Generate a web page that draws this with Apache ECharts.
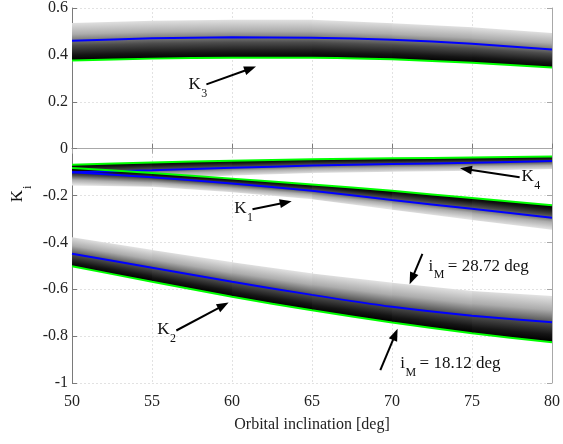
<!DOCTYPE html>
<html>
<head>
<meta charset="utf-8">
<script src="https://cdn.jsdelivr.net/npm/echarts@6/dist/echarts.min.js"></script>
<style>
html, body { margin: 0; padding: 0; background: #fff; }
#chart { width: 563px; height: 444px; }
</style>
</head>
<body>
<div id="chart"></div>
<script>
// orbital inclination [deg]
const inclination = [50, 55, 60, 65, 70, 75, 80]

// i_M = 18.12 deg (green), mean (blue), i_M = 28.72 deg (outer edge of the band)
const k3Green = [0.376, 0.384, 0.388, 0.388, 0.381, 0.366, 0.346]
const k3Blue = [0.46, 0.471, 0.475, 0.473, 0.465, 0.447, 0.423]
const k3Edge = [0.536, 0.546, 0.55, 0.55, 0.535, 0.518, 0.493]

const k4Green = [-0.069, -0.059, -0.052, -0.045, -0.041, -0.038, -0.034]
const k4Blue = [-0.101, -0.092, -0.082, -0.072, -0.066, -0.06, -0.053]
const k4Edge = [-0.145, -0.13, -0.115, -0.104, -0.099, -0.094, -0.087]

const k1Green = [-0.083, -0.104, -0.128, -0.153, -0.18, -0.211, -0.242]
const k1Blue = [-0.101, -0.122, -0.149, -0.18, -0.219, -0.257, -0.295]
const k1Edge = [-0.157, -0.163, -0.186, -0.216, -0.261, -0.304, -0.347]

const k2Green = [-0.502, -0.568, -0.632, -0.69, -0.742, -0.788, -0.826]
const k2Blue = [-0.449, -0.508, -0.568, -0.624, -0.675, -0.713, -0.741]
const k2Edge = [-0.378, -0.432, -0.485, -0.533, -0.572, -0.607, -0.629]

// arrows: from (x1, y1) to (x2, y2)
const arrowX1 = [58.4, 61.28, 77.98, 56.52, 71.9, 69.27]
const arrowY1 = [0.274, -0.259, -0.122, -0.776, -0.449, -0.945]
const arrowX2 = [61.5, 63.73, 74.25, 59.79, 71.1, 70.35]
const arrowY2 = [0.35, -0.224, -0.084, -0.657, -0.579, -0.769]

// annotation texts
const labelX = [57.28, 60.14, 78.09, 55.33, 72.28, 70.51]
const labelY = [0.274, -0.256, -0.119, -0.772, -0.502, -0.917]
const labelMain = ['K', 'K', 'K', 'K', 'i', 'i']
const labelSub = ['3', '1', '4', '2', 'M', 'M']
const labelRest = ['', '', '', '', '= 28.72 deg', '= 18.12 deg']

const serif = 'Liberation Serif'
const mainFont = '17px "Liberation Serif"'
const subFont = '12px "Liberation Serif"'

const measureCtx = document.createElement('canvas').getContext('2d')
function textWidth (txt, font) {
  measureCtx.font = font
  return measureCtx.measureText(txt).width
}

const bandStops = [
  { offset: 0, color: '#e0e0e0' },
  { offset: 0.3, color: '#acacac' },
  { offset: 0.6, color: '#4c4c4c' },
  { offset: 0.85, color: '#151515' },
  { offset: 1, color: '#000000' }
]

function segments (green, edge) {
  const out = []
  for (let i = 0; i < inclination.length - 1; i++) {
    out.push([inclination[i], green[i], edge[i], inclination[i + 1], green[i + 1], edge[i + 1]])
  }
  return out
}

function bandItem (params, api) {
  const g0 = api.coord([api.value(0), api.value(1)])
  const e0 = api.coord([api.value(0), api.value(2)])
  const g1 = api.coord([api.value(3), api.value(4)])
  const e1 = api.coord([api.value(3), api.value(5)])
  g1[0] += 0.8
  e1[0] += 0.8
  const mg = [(g0[0] + g1[0]) / 2, (g0[1] + g1[1]) / 2]
  const me = [(e0[0] + e1[0]) / 2, (e0[1] + e1[1]) / 2]
  let dx = (g1[0] - g0[0]) + (e1[0] - e0[0])
  let dy = (g1[1] - g0[1]) + (e1[1] - e0[1])
  const len = Math.hypot(dx, dy)
  dx /= len
  dy /= len
  const nx = -dy
  const ny = dx
  const t = (mg[0] - me[0]) * nx + (mg[1] - me[1]) * ny
  const end = [me[0] + t * nx, me[1] + t * ny]
  return {
    type: 'polygon',
    shape: { points: [g0, g1, e1, e0] },
    style: {
      fill: new echarts.graphic.LinearGradient(me[0], me[1], end[0], end[1], bandStops, true)
    }
  }
}

function bandSeries (green, edge) {
  return {
    type: 'custom',
    renderItem: bandItem,
    clip: true,
    silent: true,
    z: 1,
    encode: { x: [0, 3], y: [1, 2, 4, 5] },
    data: segments(green, edge)
  }
}

function lineSeries (values, color) {
  return {
    type: 'line',
    data: inclination.map((x, i) => [x, values[i]]),
    showSymbol: false,
    smooth: 0.2,
    silent: true,
    z: 3,
    lineStyle: { color: color, width: 2 }
  }
}

function arrowItem (params, api) {
  const a = api.coord([api.value(0), api.value(1)])
  const b = api.coord([api.value(2), api.value(3)])
  const ang = Math.atan2(b[1] - a[1], b[0] - a[0])
  const hl = 12
  const hw = 4.5
  const bx = b[0] - hl * Math.cos(ang)
  const by = b[1] - hl * Math.sin(ang)
  const px = -Math.sin(ang) * hw
  const py = Math.cos(ang) * hw
  return {
    type: 'group',
    children: [
      { type: 'line', shape: { x1: a[0], y1: a[1], x2: bx + 2 * Math.cos(ang), y2: by + 2 * Math.sin(ang) }, style: { stroke: '#000', lineWidth: 2 } },
      { type: 'polygon', shape: { points: [b, [bx + px, by + py], [bx - px, by - py]] }, style: { fill: '#000' } }
    ]
  }
}

function labelItem (params, api) {
  const i = api.value(2)
  const p = api.coord([api.value(0), api.value(1)])
  const mw = textWidth(labelMain[i], mainFont)
  const sw = textWidth(labelSub[i], subFont)
  const children = [
    { type: 'text', x: p[0], y: p[1], style: { text: labelMain[i], font: mainFont, fill: '#111', align: 'left', verticalAlign: 'middle' } },
    { type: 'text', x: p[0] + mw + 0.5, y: p[1] + 9, style: { text: labelSub[i], font: subFont, fill: '#111', align: 'left', verticalAlign: 'middle' } }
  ]
  if (labelRest[i]) {
    children.push({ type: 'text', x: p[0] + mw + sw + 4, y: p[1], style: { text: labelRest[i], font: mainFont, fill: '#111', align: 'left', verticalAlign: 'middle' } })
  }
  return { type: 'group', children: children }
}

const axisLineStyle = { color: '#7a7a7a', width: 1 }
const farAxisStyle = { color: '#a8a8a8', width: 1 }
const splitLineStyle = { color: '#e2e2e2', type: [2, 2], width: 1 }

const myChart = echarts.init(document.getElementById('chart'))
myChart.setOption({
  animation: false,
  backgroundColor: '#fff',
  textStyle: { fontFamily: serif },
  grid: { left: 72, right: 9, top: 4, bottom: 61 },
  xAxis: [{
    type: 'value',
    min: 50,
    max: 80,
    interval: 5,
    name: 'Orbital inclination [deg]',
    nameLocation: 'middle',
    nameGap: 34,
    nameTextStyle: { fontFamily: serif, fontSize: 16, color: '#222' },
    axisLine: { show: true, lineStyle: axisLineStyle },
    axisTick: { show: true, inside: true, length: 5, lineStyle: axisLineStyle },
    axisLabel: { margin: 11, fontFamily: serif, fontSize: 16, color: '#222' },
    splitLine: { show: true, lineStyle: splitLineStyle }
  }, {
    type: 'value',
    position: 'top',
    min: 50,
    max: 80,
    interval: 5,
    axisLine: { show: true, lineStyle: farAxisStyle },
    axisTick: { show: true, inside: true, length: 5, lineStyle: farAxisStyle },
    axisLabel: { show: false },
    splitLine: { show: false }
  }],
  yAxis: [{
    type: 'value',
    min: -1,
    max: 0.6,
    interval: 0.2,
    axisLine: { show: true, lineStyle: axisLineStyle },
    axisTick: { show: true, inside: true, length: 5, lineStyle: axisLineStyle },
    axisLabel: { margin: 4, fontFamily: serif, fontSize: 16, color: '#222' },
    splitLine: { show: true, lineStyle: splitLineStyle }
  }, {
    type: 'value',
    position: 'right',
    min: -1,
    max: 0.6,
    interval: 0.2,
    axisLine: { show: true, lineStyle: farAxisStyle },
    axisTick: { show: true, inside: true, length: 5, lineStyle: farAxisStyle },
    axisLabel: { show: false },
    splitLine: { show: false }
  }],
  graphic: [
    { type: 'text', x: 18, y: 196, rotation: Math.PI / 2, style: { text: 'K', font: mainFont, fill: '#111', align: 'center', verticalAlign: 'middle' } },
    { type: 'text', x: 27.5, y: 189, rotation: Math.PI / 2, style: { text: 'i', font: subFont, fill: '#111', align: 'left', verticalAlign: 'middle' } }
  ],
  series: [
    bandSeries(k3Green, k3Edge),
    bandSeries(k4Green, k4Edge),
    bandSeries(k1Green, k1Edge),
    bandSeries(k2Green, k2Edge),
    lineSeries(k3Green, '#00ff00'),
    lineSeries(k3Blue, '#0000ff'),
    lineSeries(k4Green, '#00ff00'),
    lineSeries(k4Blue, '#0000ff'),
    lineSeries(k1Green, '#00ff00'),
    lineSeries(k1Blue, '#0000ff'),
    lineSeries(k2Green, '#00ff00'),
    lineSeries(k2Blue, '#0000ff'),
    {
      type: 'custom',
      renderItem: arrowItem,
      silent: true,
      z: 5,
      encode: { x: [0, 2], y: [1, 3] },
      data: arrowX1.map((x, i) => [x, arrowY1[i], arrowX2[i], arrowY2[i]])
    },
    {
      type: 'custom',
      renderItem: labelItem,
      silent: true,
      z: 5,
      encode: { x: 0, y: 1 },
      data: labelX.map((x, i) => [x, labelY[i], i])
    }
  ]
})
</script>
</body>
</html>
